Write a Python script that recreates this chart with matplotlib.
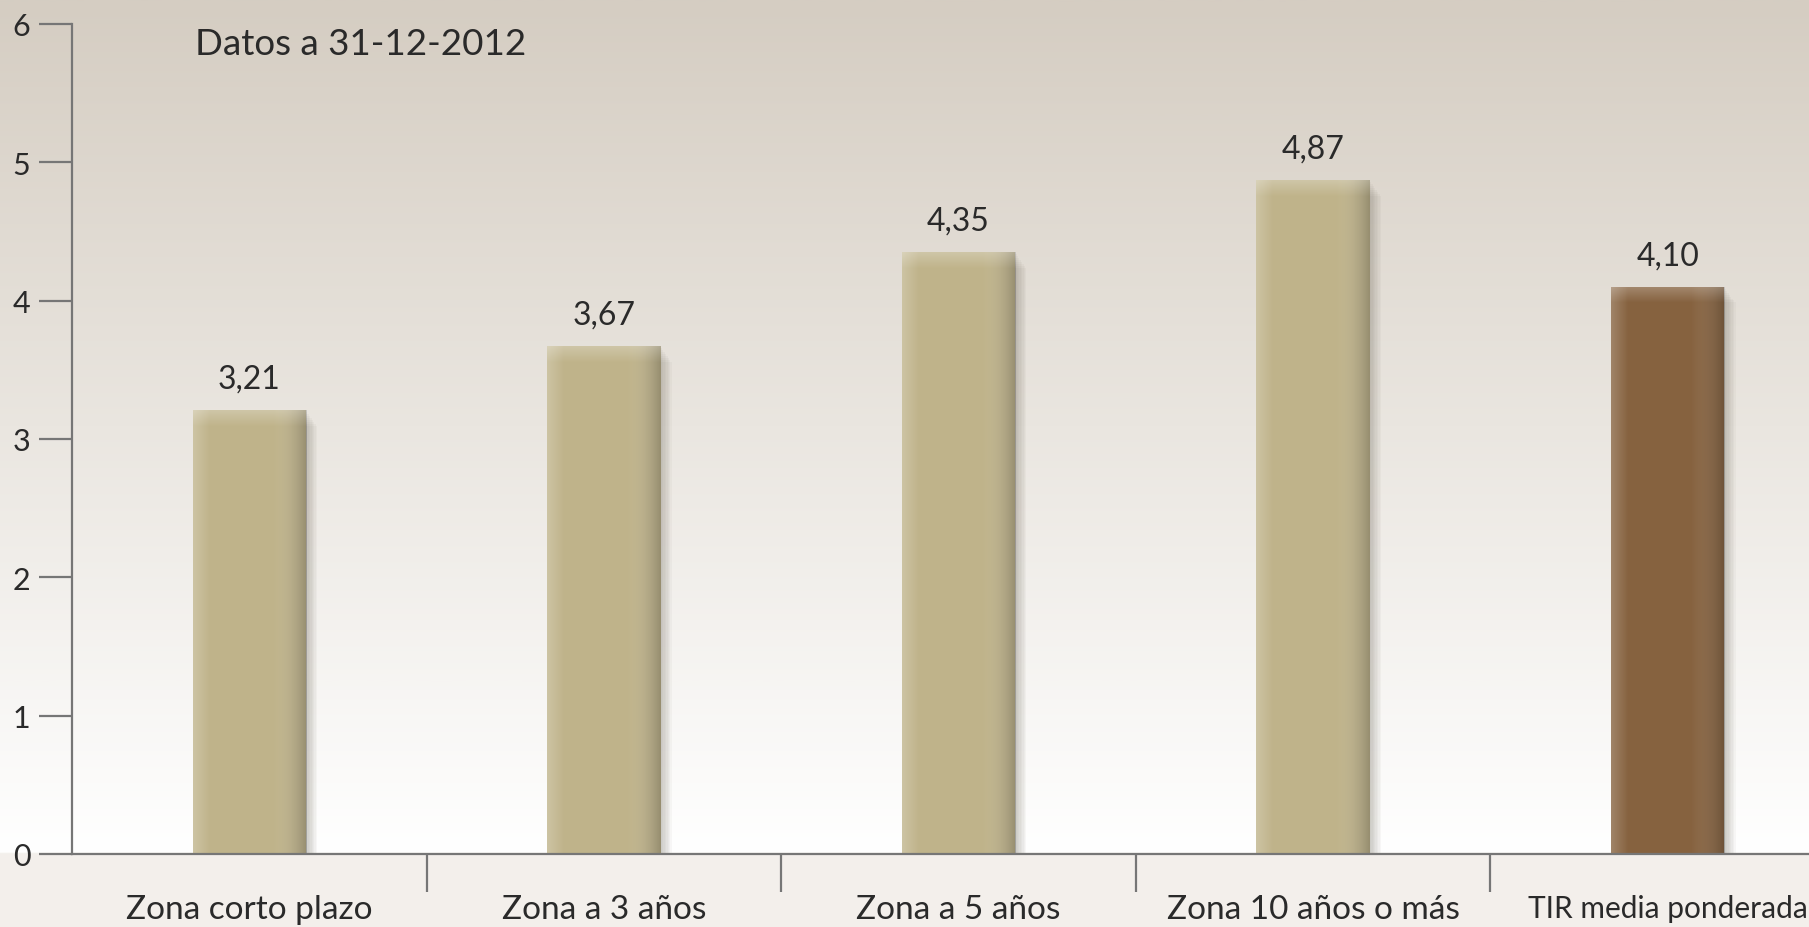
import matplotlib
matplotlib.use('Agg')
import matplotlib.pyplot as plt
import matplotlib.patheffects as pe
import numpy as np
from matplotlib.colors import LinearSegmentedColormap

plt.rcParams['font.family'] = ['Lato', 'DejaVu Sans']

categories = ['Zona corto plazo', 'Zona a 3 años', 'Zona a 5 años',
              'Zona 10 años o más', 'TIR media ponderada']
values = [3.21, 3.67, 4.35, 4.87, 4.10]
value_labels = ['3,21', '3,67', '4,35', '4,87', '4,10']
bar_colors = ['#bfb38a', '#bfb38a', '#bfb38a', '#bfb38a', '#86623f']
yticks = [0, 1, 2, 3, 4, 5, 6]

fig = plt.figure(figsize=(18.09, 9.28), dpi=100)

# background gradient
bg = fig.add_axes([0, 0, 1, 1], zorder=-10)
bg.axis('off')
ys = np.linspace(0, 1, 400)
axis_frac = 855 / 928
bg_cmap = LinearSegmentedColormap.from_list('bg', ['#d5cdc2', '#eae6e0', '#ffffff'])
col = np.zeros((400, 1, 3))
for i, t in enumerate(ys):
    if t < axis_frac:
        c = bg_cmap(t / axis_frac)[:3]
    else:
        c = (0.953, 0.941, 0.925)
    col[i, 0] = c
bg.imshow(col, aspect='auto', extent=[0, 1, 1, 0])
bg.set_xlim(0, 1)
bg.set_ylim(1, 0)

ax = fig.add_axes([72 / 1809, 73 / 928, 1773 / 1809, 830 / 928])
ax.patch.set_alpha(0)

x = np.arange(len(categories))
# soft shadow: several faint offset copies
shadow = [pe.SimplePatchShadow(offset=(k, -k * 1.4), shadow_rgbFace='#7a7466', alpha=0.05)
          for k in range(1, 9)]
bars = ax.bar(x, values, width=0.32, color=bar_colors, zorder=3,
              path_effects=shadow + [pe.Normal()])

# horizontal shading on bars
shade = np.linspace(0, 1, 100)
shade_img = np.where(shade < 0.15, 0.25 * (1 - shade / 0.15), 0) - np.where(shade > 0.7, 0.3 * (shade - 0.7) / 0.3, 0)
shade_cmap = LinearSegmentedColormap.from_list('sh', [(0, 0, 0, 0.3), (1, 1, 1, 0), (1, 1, 1, 0.3)])
for b in bars:
    bx, bw, bh = b.get_x(), b.get_width(), b.get_height()
    im = ax.imshow(shade_img[np.newaxis, :], cmap=shade_cmap, vmin=-0.35, vmax=0.35,
                   extent=[bx, bx + bw, 0, bh], aspect='auto', zorder=4)
    im.set_clip_path(b)
    # lighter band at the top
    top = np.linspace(1, 0, 20)[:, np.newaxis]
    tcm = LinearSegmentedColormap.from_list('tp', [(1, 1, 1, 0), (1, 1, 1, 0.25)])
    im2 = ax.imshow(top, cmap=tcm, vmin=0, vmax=1, extent=[bx, bx + bw, bh - 0.12, bh],
                    aspect='auto', zorder=4)
    im2.set_clip_path(b)

for xi, v, lab in zip(x, values, value_labels):
    ax.text(xi, v + 0.12, lab, ha='center', va='bottom', fontsize=23, color='#2a2a2a')

ax.set_xlim(-0.5, 4.5)
ax.set_ylim(0, 6)

for s in ['top', 'right']:
    ax.spines[s].set_visible(False)
for s in ['left', 'bottom']:
    ax.spines[s].set_color('#767676')
    ax.spines[s].set_linewidth(1.6)
    ax.spines[s].set_zorder(5)

ax.set_yticks(yticks)
ax.set_yticklabels([str(t) for t in yticks], fontsize=22, color='#2a2a2a')
ax.tick_params(axis='y', length=24, width=1.6, color='#767676', pad=6)

ax.set_xticks([0.5, 1.5, 2.5, 3.5])
ax.set_xticklabels([])
ax.tick_params(axis='x', which='major', length=27, width=1.6, color='#767676')
ax.set_xticks(x, minor=True)
ax.set_xticklabels(categories, minor=True, fontsize=24, color='#2a2a2a')
ax.tick_params(axis='x', which='minor', length=0, pad=29)
# last label is set narrower in the original
ax.get_xticklabels(minor=True)[-1].set_fontsize(21.5)

ax.text(198 / 1809 - 72 / 1809, 0.977, 'Datos a 31-12-2012', transform=ax.transAxes,
        fontsize=26.5, color='#2a2a2a', va='center', ha='left')

fig.savefig('out.png', dpi=100)
